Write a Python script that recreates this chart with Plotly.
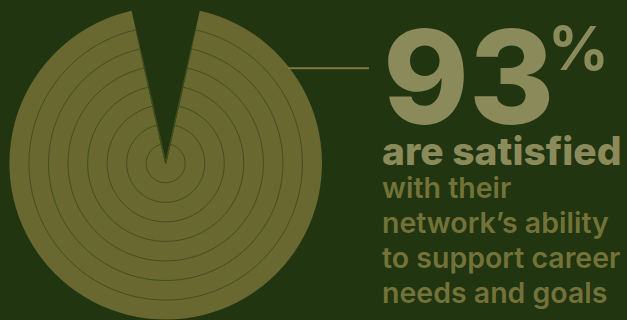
import plotly.graph_objects as go

# Survey result: share satisfied vs. not
segments = ["Satisfied", "Not satisfied"]
shares = [93, 7]
headline_value = "93"
headline_unit = "%"
headline_sub = "are satisfied"
body_lines = ["with their", "network\u2019s ability", "to support career", "needs and goals"]
ring_count = 8

W, H = 627, 320
BG = "#213510"
FILL = "#686830"
RING = "#3f4c1c"
HEAD = "#8b8a5a"
BODY = "#737238"
CONNECTOR = "#7c7a3e"

# Pie geometry (pixels)
cx, cy, R = 165.7, 163.3, 156.3

gap = shares[1]
rotation = -gap / 100 * 360 / 2  # centre the missing wedge on 12 o'clock


def domain_for(radius):
    return dict(
        x=[(cx - radius) / W, (cx + radius) / W],
        y=[(H - cy - radius) / H, (H - cy + radius) / H],
    )


fig = go.Figure()

# Solid filled pie
fig.add_trace(go.Pie(
    labels=segments[::-1], values=shares[::-1], sort=False,
    direction="clockwise", rotation=rotation,
    marker=dict(colors=["rgba(0,0,0,0)", FILL], line=dict(width=0)),
    textinfo="none", hoverinfo="skip", showlegend=False,
    domain=domain_for(R),
))

# Concentric ring outlines drawn as nested transparent pies
for k in range(1, ring_count):
    r = R * k / ring_count
    fig.add_trace(go.Pie(
        labels=segments[::-1], values=shares[::-1], sort=False,
        direction="clockwise", rotation=rotation,
        marker=dict(colors=["rgba(0,0,0,0)", "rgba(0,0,0,0)"],
                    line=dict(color=["rgba(0,0,0,0)", RING], width=[0, 0.9])),
        textinfo="none", hoverinfo="skip", showlegend=False,
        domain=domain_for(r),
    ))

# Connector line from the pie to the headline
fig.add_shape(type="line", xref="paper", yref="paper",
              x0=288 / W, x1=369 / W, y0=1 - 68.3 / H, y1=1 - 68.3 / H,
              line=dict(color=CONNECTOR, width=2))

HEAD_FONT = "Inter"

fig.add_annotation(text=headline_value, xref="paper", yref="paper",
                   x=381 / W, y=1 - 76 / H, xanchor="left", yanchor="middle",
                   showarrow=False,
                   font=dict(family=HEAD_FONT, size=130, color=HEAD, weight=800))
fig.add_annotation(text=headline_unit, xref="paper", yref="paper",
                   x=546 / W, y=1 - 47.5 / H, xanchor="left", yanchor="middle",
                   showarrow=False,
                   font=dict(family=HEAD_FONT, size=60, color=HEAD, weight=700))
fig.add_annotation(text=headline_sub, xref="paper", yref="paper",
                   x=380 / W, y=1 - 150 / H, xanchor="left", yanchor="middle",
                   showarrow=False,
                   font=dict(family=HEAD_FONT, size=39, color=HEAD, weight=800))

first_baseline, line_gap, body_size = 198, 35, 28.5
for i, line in enumerate(body_lines):
    base = first_baseline + i * line_gap
    fig.add_annotation(text=line, xref="paper", yref="paper",
                       x=380 / W, y=1 - (base - 0.3635 * body_size) / H,
                       xanchor="left", yanchor="middle", showarrow=False,
                       font=dict(family="Inter", size=body_size, color=BODY, weight=600))

fig.update_layout(
    width=W, height=H,
    margin=dict(l=0, r=0, t=0, b=0),
    paper_bgcolor=BG, plot_bgcolor=BG,
    showlegend=False,
)

fig.write_html("out.html", config={"displayModeBar": False})
